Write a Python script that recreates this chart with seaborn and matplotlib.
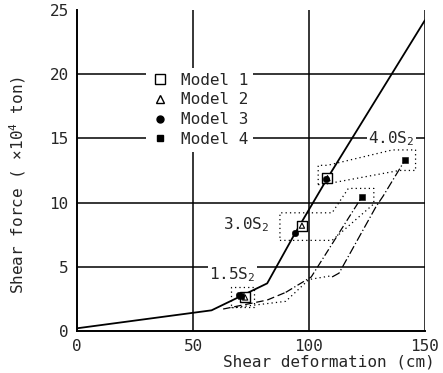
import pandas as pd
import matplotlib.pyplot as plt
import seaborn as sns
from matplotlib.lines import Line2D

# skeleton curve (solid)
skel_x = [0, 58, 82, 94, 108, 150]
skel_y = [0.2, 1.6, 3.7, 7.6, 11.9, 24.2]

# hysteresis branches
branch_a_x = [63, 82, 90]
branch_a_y = [1.7, 2.4, 3.0]
branch_b_x = [90, 101, 122.7]
branch_b_y = [3.0, 4.2, 10.4]
branch_c_x = [67, 90, 100, 110]
branch_c_y = [1.8, 2.3, 4.0, 4.3]
branch_d_x = [110, 113, 129, 132, 141.4]
branch_d_y = [4.2, 4.5, 9.7, 10.5, 13.3]

# response ranges (dotted envelopes)
env15_x = [66.4, 76.4, 76.4, 66.4, 66.4]
env15_y = [1.85, 1.85, 3.4, 3.4, 1.85]
env30_x = [87.5, 110, 128, 128, 117, 110, 87.5, 87.5]
env30_y = [7.05, 7.05, 9.9, 11.1, 11.1, 9.2, 9.2, 7.05]
env40_x = [104, 106, 139, 146, 146, 136, 108, 104, 104]
env40_y = [11.4, 11.4, 12.5, 12.5, 14.1, 14.1, 12.9, 12.9, 11.4]

# peak points of each model
m1_x = [72.5, 97, 108]
m1_y = [2.6, 8.2, 11.9]
m2_x = [72.5, 97, 108]
m2_y = [2.6, 8.2, 11.9]
m3_x = [70, 94, 107.5]
m3_y = [2.8, 7.6, 11.8]
m4_x = [70.5, 122.7, 141.4]
m4_y = [2.75, 10.45, 13.3]

levels = ['1.5S$_2$', '3.0S$_2$', '4.0S$_2$']
level_x = [67, 73, 135.7]
level_y = [4.4, 8.3, 15.0]

sns.set_style('white')
plt.rcParams['font.family'] = ['DejaVu Sans Mono', 'DejaVu Sans']
plt.rcParams['font.size'] = 11
plt.rcParams['mathtext.fontset'] = 'custom'
plt.rcParams['mathtext.rm'] = 'DejaVu Sans Mono'
plt.rcParams['mathtext.it'] = 'DejaVu Sans Mono'
plt.rcParams['mathtext.default'] = 'rm'

fig = plt.figure(figsize=(4.43, 3.73), dpi=100)
ax = fig.add_axes([0.174, 0.113, 0.785, 0.86])

ax.set_xlim(0, 150)
ax.set_ylim(0, 25)
ax.set_xticks([0, 50, 100, 150])
ax.set_yticks([0, 5, 10, 15, 20, 25])
for v in [50, 100, 150]:
    ax.axvline(v, color='black', lw=1.1, zorder=1)
for v in [5, 10, 15, 20]:
    ax.axhline(v, color='black', lw=1.1, zorder=1)

kw = dict(color='black', sort=False, estimator=None, zorder=3)
sns.lineplot(x=skel_x, y=skel_y, lw=1.3, ax=ax, **kw)
sns.lineplot(x=branch_a_x, y=branch_a_y, lw=0.9, linestyle=(0, (6, 3)), ax=ax, **kw)
sns.lineplot(x=branch_b_x, y=branch_b_y, lw=0.9, linestyle=(0, (6, 2, 1, 2)), ax=ax, **kw)
sns.lineplot(x=branch_c_x, y=branch_c_y, lw=0.9, linestyle=(0, (1, 2.5)), ax=ax, **kw)
sns.lineplot(x=branch_d_x, y=branch_d_y, lw=0.9, linestyle=(0, (7, 2, 1, 2)), ax=ax, **kw)
for ex, ey in [(env15_x, env15_y), (env30_x, env30_y), (env40_x, env40_y)]:
    sns.lineplot(x=ex, y=ey, lw=0.9, linestyle=(0, (1, 2.5)), ax=ax, **kw)

sns.scatterplot(x=m1_x, y=m1_y, marker='s', s=45, facecolor='white',
                edgecolor='black', linewidth=1.0, ax=ax, zorder=4)
sns.scatterplot(x=m2_x, y=m2_y, marker='^', s=14, facecolor='none',
                edgecolor='black', linewidth=0.8, ax=ax, zorder=5)
sns.scatterplot(x=m3_x, y=m3_y, marker='o', s=22, color='black',
                edgecolor='black', ax=ax, zorder=5)
sns.scatterplot(x=m4_x, y=m4_y, marker='s', s=22, color='black',
                edgecolor='black', ax=ax, zorder=5)

for t, x, y in zip(levels, level_x, level_y):
    ax.text(x, y, t, ha='center', va='center', fontsize=11.5, zorder=6,
            bbox=dict(facecolor='white', edgecolor='none', pad=1))

handles = [
    Line2D([], [], marker='s', ls='none', mfc='white', mec='black', ms=7),
    Line2D([], [], marker='^', ls='none', mfc='white', mec='black', ms=6),
    Line2D([], [], marker='o', ls='none', color='black', ms=5),
    Line2D([], [], marker='s', ls='none', color='black', ms=5),
]
ax.legend(handles, ['Model 1', 'Model 2', 'Model 3', 'Model 4'],
          loc='upper left', bbox_to_anchor=(0.175, 0.845), frameon=True,
          facecolor='white', edgecolor='none', framealpha=1, fancybox=False,
          handletextpad=0.7, labelspacing=0.3, borderpad=0.3, fontsize=11.5,
          handlelength=1.2)

for s in ['top', 'right']:
    ax.spines[s].set_visible(False)
for s in ['left', 'bottom']:
    ax.spines[s].set_color('black')
    ax.spines[s].set_linewidth(1.4)
ax.tick_params(direction='inout', length=5, width=1, color='black', labelsize=11.5)

ax.set_xlabel('Shear deformation (cm)', fontsize=11.5)
ax.xaxis.set_label_coords(0.724, -0.075)
ax.set_ylabel('Shear force ( ×10$^4$ ton)', fontsize=11.5)
ax.yaxis.set_label_coords(-0.14, 0.455)

plt.savefig('out.png', dpi=100)
